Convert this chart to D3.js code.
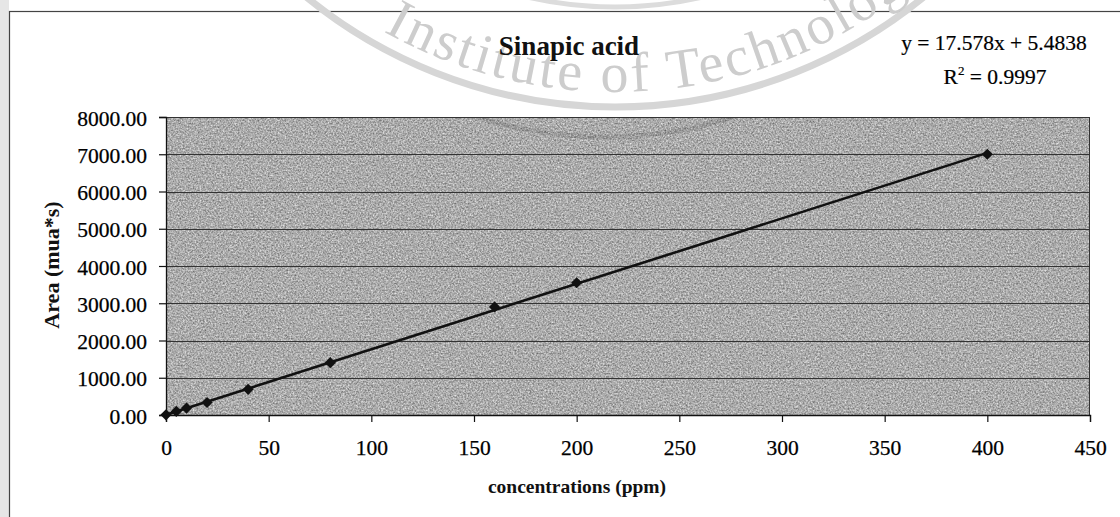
<!DOCTYPE html>
<html>
<head>
<meta charset="utf-8">
<script src="https://cdn.jsdelivr.net/npm/d3@7"></script>
<style>
  html, body { margin: 0; padding: 0; background: #fff; }
  svg { display: block; }
</style>
</head>
<body>
<svg id="chart" width="1120" height="517"></svg>
<script>
// Calibration data for sinapic acid (HPLC peak area vs concentration)
const concentrations = [0, 5, 10, 20, 40, 80, 160, 200, 400];
const areas = [5, 95, 185, 335, 690, 1405, 2900, 3550, 7000];
const xTickValues = [0, 50, 100, 150, 200, 250, 300, 350, 400, 450];
const yTickValues = [0, 1000, 2000, 3000, 4000, 5000, 6000, 7000, 8000];
const fitSlope = 17.578;
const fitIntercept = 5.4838;
const fitR2 = 0.9997;
const chartTitle = "Sinapic acid";
const xTitle = "concentrations (ppm)";
const yTitle = "Area (mua*s)";
const sealText = "Institute of Technology";

const svg = d3.select("#chart");
const W = 1120, H = 517;
const plot = { left: 166, right: 1090, top: 117, bottom: 415 };

const x = d3.scaleLinear().domain([0, 450]).range([plot.left, plot.right]);
const y = d3.scaleLinear().domain([0, 8000]).range([plot.bottom, plot.top]);

const serif = "'Liberation Serif', 'Times New Roman', serif";

const defs = svg.append("defs");

// grainy grey fill for the plot area
const f = defs.append("filter").attr("id", "grain")
  .attr("x", 0).attr("y", 0).attr("width", 1).attr("height", 1)
  .attr("color-interpolation-filters", "sRGB");
f.append("feTurbulence").attr("type", "fractalNoise")
  .attr("baseFrequency", 0.6).attr("numOctaves", 3).attr("seed", 7).attr("result", "n");
f.append("feColorMatrix").attr("in", "n").attr("type", "matrix")
  .attr("values", "0.62 0 0 0 0.36  0.62 0 0 0 0.36  0.62 0 0 0 0.36  0 0 0 0 1")
  .attr("result", "g");
f.append("feComposite").attr("in", "g").attr("in2", "SourceGraphic").attr("operator", "in");

defs.append("clipPath").attr("id", "plotClip").append("rect")
  .attr("x", plot.left).attr("y", plot.top)
  .attr("width", plot.right - plot.left).attr("height", plot.bottom - plot.top);

// page edge on the left
svg.append("rect").attr("x", 0).attr("y", 0).attr("width", 9).attr("height", H).attr("fill", "#e6e6e6");

// chart frame
svg.append("rect").attr("x", 9.5).attr("y", 11.5).attr("width", W + 20).attr("height", H + 20)
  .attr("fill", "#fff").attr("stroke", "#444").attr("stroke-width", 1.2);

// faint seal printed on the page behind the chart
const seal = { cx: 615, cy: -381, ring: 488, text: 473 };
const wm = svg.append("g").attr("fill", "none");
wm.append("circle").attr("cx", seal.cx).attr("cy", seal.cy).attr("r", seal.ring)
  .attr("stroke", "#d6d6d6").attr("stroke-width", 7);
wm.append("circle").attr("cx", seal.cx).attr("cy", seal.cy).attr("r", seal.ring - 100)
  .attr("stroke", "#dcdcdc").attr("stroke-width", 5);
const a0 = -62 * Math.PI / 180, a1 = 62 * Math.PI / 180;
const px = a => seal.cx + seal.text * Math.sin(a);
const py = a => seal.cy + seal.text * Math.cos(a);
defs.append("path").attr("id", "sealPath")
  .attr("d", `M${px(a0)},${py(a0)} A${seal.text},${seal.text} 0 0 0 ${px(a1)},${py(a1)}`);
wm.append("text").attr("font-family", serif).attr("font-size", 56).attr("fill", "#cdcdcd")
  .attr("letter-spacing", 3)
  .append("textPath").attr("href", "#sealPath")
  .attr("startOffset", seal.text * (62 + 6.4) * Math.PI / 180)
  .attr("text-anchor", "middle").text(sealText);

// plot area
svg.append("rect")
  .attr("x", plot.left).attr("y", plot.top)
  .attr("width", plot.right - plot.left).attr("height", plot.bottom - plot.top)
  .attr("fill", "#a8a8a8").attr("filter", "url(#grain)");

// faint darker arc of the seal showing through the plot area
svg.append("circle").attr("clip-path", "url(#plotClip)")
  .attr("cx", 605).attr("cy", -283).attr("r", 420)
  .attr("fill", "none").attr("stroke", "#000").attr("stroke-opacity", 0.1).attr("stroke-width", 5);

// horizontal gridlines
svg.append("g").selectAll("line").data(yTickValues).join("line")
  .attr("x1", plot.left).attr("x2", plot.right)
  .attr("y1", d => Math.round(y(d)) + 0.5).attr("y2", d => Math.round(y(d)) + 0.5)
  .attr("stroke", "#333").attr("stroke-width", 1);

// plot border
svg.append("rect")
  .attr("x", plot.left + 0.5).attr("y", plot.top + 0.5)
  .attr("width", plot.right - plot.left - 1).attr("height", plot.bottom - plot.top)
  .attr("fill", "none").attr("stroke", "#333").attr("stroke-width", 1);

// axes
const xAxis = d3.axisBottom(x).tickValues(xTickValues).tickSize(7).tickPadding(18)
  .tickFormat(d3.format("d"));
const gx = svg.append("g").attr("transform", `translate(0,${plot.bottom})`).call(xAxis);
gx.select(".domain").attr("stroke", "#111").attr("stroke-width", 1.3);
gx.selectAll(".tick line").attr("stroke", "#111").attr("stroke-width", 1.2);
gx.selectAll("text").attr("font-family", serif).attr("font-size", 21.5).attr("fill", "#000")
  .attr("stroke", "#000").attr("stroke-width", 0.25);

const yAxis = d3.axisLeft(y).tickValues(yTickValues).tickSize(7).tickPadding(12)
  .tickFormat(d3.format(".2f"));
const gy = svg.append("g").attr("transform", `translate(${plot.left},0)`).call(yAxis);
gy.select(".domain").attr("stroke", "#111").attr("stroke-width", 1.3);
gy.selectAll(".tick line").attr("stroke", "#111").attr("stroke-width", 1.2);
gy.selectAll("text").attr("font-family", serif).attr("font-size", 21.5).attr("fill", "#000")
  .attr("stroke", "#000").attr("stroke-width", 0.25).attr("dy", "0.38em");

// linear trendline
const xFit = [0, 400];
svg.append("path").datum(xFit)
  .attr("d", d3.line().x(d => x(d)).y(d => y(fitSlope * d + fitIntercept)))
  .attr("fill", "none").attr("stroke", "#111").attr("stroke-width", 2.6);

// diamond markers
const diamond = d3.symbol().type(d3.symbolDiamond2).size(80);
svg.append("g").selectAll("path").data(areas).join("path")
  .attr("transform", (d, i) => `translate(${x(concentrations[i])},${y(d)})`)
  .attr("d", diamond).attr("fill", "#111");

// title
svg.append("text").attr("x", 569).attr("y", 55).attr("text-anchor", "middle")
  .attr("font-family", serif).attr("font-weight", "bold").attr("font-size", 27)
  .attr("fill", "#111").text(chartTitle);

// fit equation
const eq = svg.append("g").attr("font-family", serif).attr("fill", "#000").attr("font-size", 21.5)
  .attr("stroke", "#000").attr("stroke-width", 0.2);
eq.append("text").attr("x", 994).attr("y", 50).attr("text-anchor", "middle")
  .text(`y = ${fitSlope}x + ${fitIntercept}`);
const r2 = eq.append("text").attr("x", 995).attr("y", 84).attr("text-anchor", "middle");
r2.append("tspan").text("R");
r2.append("tspan").attr("font-size", 13).attr("dy", -9).text("2");
r2.append("tspan").attr("dy", 9).text(` = ${fitR2}`);

// axis titles
svg.append("text").attr("x", 577).attr("y", 493).attr("text-anchor", "middle")
  .attr("font-family", serif).attr("font-weight", "bold").attr("font-size", 19.5)
  .attr("fill", "#111").text(xTitle);
svg.append("text").attr("transform", `translate(59,${(plot.top + plot.bottom) / 2 - 1}) rotate(-90)`)
  .attr("text-anchor", "middle")
  .attr("font-family", serif).attr("font-weight", "bold").attr("font-size", 22)
  .attr("fill", "#111").text(yTitle);
</script>
</body>
</html>
